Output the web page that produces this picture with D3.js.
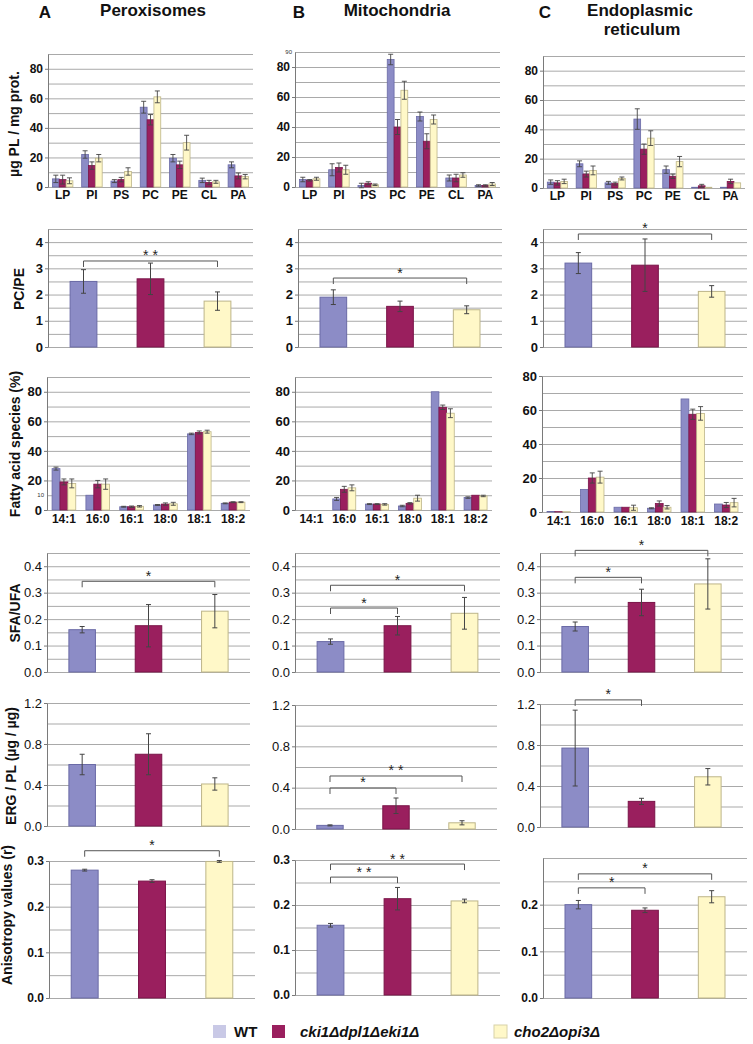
<!DOCTYPE html>
<html>
<head>
<meta charset="utf-8">
<script src="https://cdn.jsdelivr.net/npm/d3@7"></script>
<style>
  body { margin: 0; background: #fff; }
  svg { display: block; font-family: Arial, "Liberation Sans", sans-serif; }
</style>
</head>
<body>
<svg id="fig" width="753" height="1044"></svg>
<script>
// strains, in legend order
var strains = ["WT", "cki1Δdpl1Δeki1Δ", "cho2Δopi3Δ"];
var fills = ["#8c8cc6", "#9a1f5e", "#fff8c8"];
var strokes = ["#6a6aa6", "#7a1448", "#bdb589"];

var organelles = ["Peroxisomes", "Mitochondria", "Endoplasmic reticulum"];
var plClasses = ["LP", "PI", "PS", "PC", "PE", "CL", "PA"];
var faSpecies = ["14:1", "16:0", "16:1", "18:0", "18:1", "18:2"];

// µg PL / mg protein, per class: [WT, cki1, cho2]
var plPerox    = [[5.5,5,4.2],[22,14.5,19.5],[4,5,10.5],[54,45.5,61],[19.5,15,30],[4.5,3,3.5],[15,7.5,7]];
var plPeroxErr = [[2.5,3,2],[2.5,2.5,2.5],[1,1.5,2.5],[4,3.5,4],[2.5,2.5,5],[1.5,1.5,1],[2,2,1.5]];
var plMito     = [[5,4.5,5.5],[11.5,13,11.5],[1,2.5,1.5],[85,40,64.5],[47,30.5,45],[6,6,8],[1,1,2]];
var plMitoErr  = [[1.5,0.5,1],[4,3,3],[1.5,1,0.5],[3.5,5,6],[3,5,3],[2,2.5,1.5],[0.5,0.5,1]];
var plER       = [[4,3.5,4.5],[16.5,9.5,12],[3.5,3,6.5],[47,26.5,34],[12.5,8,18],[0.5,1.5,0.5],[0.5,4.5,3.5]];
var plERErr    = [[1.5,1.5,1.5],[2,2,3],[1,1,1],[7,3.5,5],[2.5,1.5,3.5],[0,1,0],[0,1.5,0]];

// fatty acid species (%)
var faPerox    = [[28,19,18],[10,17.5,17.5],[2.2,2.2,2.5],[3.4,4,4.2],[51.5,52.5,53],[4.5,5.3,5.3]];
var faPeroxErr = [[1,2,3],[0,2.5,3.5],[0.3,0.5,0.5],[0.3,0.8,1],[0.5,1,1],[0.3,0.3,0.3]];
var faMito     = [[0,0,0],[7.5,14,15],[4,4,3.8],[2.7,4.5,8],[80,69.5,65.5],[8.4,10,9.5]];
var faMitoErr  = [[0,0,0],[1,2,2],[0.3,0.3,0.5],[0.5,0.5,2],[0,1.5,3],[0.5,0,0.5]];
var faER       = [[0.3,0.2,0.2],[13.3,20,20.5],[2.8,2.8,2.5],[2.2,5,2.8],[66.5,57.5,58],[4.7,4.1,5.5]];
var faERErr    = [[0,0,0],[0,3,3.5],[0,0,1.5],[0.3,1.5,1],[0,3,4],[0,1.5,2.5]];

// one row per organelle: [WT, cki1, cho2]
var pcpe       = [[2.5,2.6,1.75],[1.9,1.55,1.42],[3.2,3.12,2.12]];
var pcpeErr    = [[0.45,0.6,0.35],[0.28,0.2,0.15],[0.4,1.0,0.22]];
var sfaUfa     = [[0.16,0.175,0.23],[0.115,0.175,0.222],[0.172,0.263,0.333]];
var sfaUfaErr  = [[0.012,0.08,0.063],[0.01,0.035,0.06],[0.017,0.05,0.095]];
var ergPl      = [[0.6,0.7,0.41],[0.035,0.225,0.06],[0.77,0.25,0.49]];
var ergPlErr   = [[0.1,0.2,0.06],[0.005,0.075,0.02],[0.37,0.03,0.08]];
var aniso      = [[0.28,0.256,0.299],[0.155,0.214,0.209],[0.2,0.188,0.217]];
var anisoErr   = [[0.002,0.003,0.002],[0.004,0.025,0.004],[0.009,0.005,0.013]];

// significance brackets: [from, to, height, label]
var pcpeSig   = [[[0,2,3.28,"* *"]], [[0,2,2.63,"*"]], [[0,2,4.31,"*"]]];
var sfaUfaSig = [[[0,2,0.343,"*"]], [[0,1,0.242,"*"],[0,2,0.328,"*"]], [[0,1,0.358,"*"],[0,2,0.46,"*"]]];
var ergPlSig  = [[], [[0,1,0.397,"*"],[0,2,0.513,"* *"]], [[0,1,1.24,"*"]]];
var anisoSig  = [[[0,2,0.3225,"*"]], [[0,1,0.262,"* *"],[0,2,0.291,"* *"]], [[0,1,0.236,"*"],[0,2,0.266,"*"]]];

var svg = d3.select("#fig");

function drawAxes(g, c, y) {
  var w = c.r - c.l;
  var gridVals = d3.range(0, c.max + c.grid / 2, c.grid);
  var grid = g.append("g").attr("transform", "translate(" + c.l + ",0)")
    .call(d3.axisLeft(y).tickValues(gridVals).tickSize(-w).tickFormat(""));
  grid.select(".domain").remove();
  grid.selectAll("line").attr("stroke", "#a9a9a9");

  var ax = g.append("g").attr("transform", "translate(" + c.l + ",0)")
    .call(d3.axisLeft(y).tickValues(c.labels).tickSize(3).tickPadding(2)
      .tickSizeOuter(0).tickFormat(d3.format(c.fmt)));
  ax.select(".domain").attr("stroke", "#7a7a7a");
  ax.selectAll("line").attr("stroke", "#7a7a7a");
  ax.selectAll("text").attr("fill", "#111")
    .style("font-size", c.fs + "px").style("font-weight", c.bold ? "bold" : "normal");
  if (c.tiny) {
    g.append("text").attr("x", c.l - 3).attr("y", y(c.tiny) + 2)
      .attr("text-anchor", "end").style("font-size", "6px").attr("fill", "#333").text(c.tiny);
  }
}

function errBar(g, cx, y, v, e) {
  if (!e) return;
  var t = y(v + e), b = y(v - e);
  g.append("line").attr("x1", cx).attr("x2", cx).attr("y1", t).attr("y2", b);
  g.append("line").attr("x1", cx - 2.5).attr("x2", cx + 2.5).attr("y1", t).attr("y2", t);
  g.append("line").attr("x1", cx - 2.5).attr("x2", cx + 2.5).attr("y1", b).attr("y2", b);
}

function groupedPanel(c, cats, means, errs) {
  var g = svg.append("g");
  var y = d3.scaleLinear().domain([0, c.max]).range([c.y0, c.yT]);
  drawAxes(g, c, y);
  var x0 = d3.scaleBand().domain(cats).range([c.l, c.r]).paddingInner(0.3).paddingOuter(0.15);
  var x1 = d3.scaleBand().domain([0, 1, 2]).range([0, x0.bandwidth()]);
  var eg = g.append("g").attr("stroke", "#444").attr("stroke-width", 0.9);
  cats.forEach(function(cat, i) {
    means[i].forEach(function(v, s) {
      var x = x0(cat) + x1(s);
      g.append("rect").attr("x", x).attr("width", x1.bandwidth())
        .attr("y", y(v)).attr("height", c.y0 - y(v))
        .attr("fill", fills[s]).attr("stroke", strokes[s]).attr("stroke-width", 0.8);
      errBar(eg, x + x1.bandwidth() / 2, y, v, errs[i][s]);
    });
  });
  eg.raise();
  var xa = g.append("g").attr("transform", "translate(0," + c.y0 + ")")
    .call(d3.axisBottom(x0).tickSize(0).tickPadding(c.catPad));
  xa.select(".domain").remove();
  xa.selectAll("text").attr("fill", "#111").style("font-size", "12px").style("font-weight", "bold");
}

function singlePanel(c, means, errs, sig) {
  var g = svg.append("g");
  var y = d3.scaleLinear().domain([0, c.max]).range([c.y0, c.yT]);
  drawAxes(g, c, y);
  var x = d3.scaleBand().domain([0, 1, 2]).range([c.l, c.r]).paddingInner(0.6).paddingOuter(0.33);
  g.selectAll("rect.bar").data(means).enter().append("rect").attr("class", "bar")
    .attr("x", function(d, i) { return x(i); }).attr("width", x.bandwidth())
    .attr("y", function(d) { return y(d); })
    .attr("height", function(d) { return c.y0 - y(d); })
    .attr("fill", function(d, i) { return fills[i]; })
    .attr("stroke", function(d, i) { return strokes[i]; }).attr("stroke-width", 1);
  var eg = g.append("g").attr("stroke", "#444").attr("stroke-width", 1);
  means.forEach(function(v, i) { errBar(eg, x(i) + x.bandwidth() / 2, y, v, errs[i]); });
  var sg = g.append("g");
  sig.forEach(function(s) {
    var xa = x(s[0]) + x.bandwidth() / 2, xb = x(s[1]) + x.bandwidth() / 2, yy = y(s[2]);
    sg.append("path").attr("fill", "none").attr("stroke", "#555").attr("stroke-width", 1)
      .attr("d", "M" + xa + "," + (yy + 6) + "V" + yy + "H" + xb + "V" + (yy + 6));
    sg.append("text").attr("x", (xa + xb) / 2).attr("y", yy - 0.5).attr("text-anchor", "middle")
      .style("font-size", "14px").attr("fill", "#222").text(s[3]);
  });
}

// panel geometry per row, one entry per organelle column
var rowPl = [{l:48,r:253,y0:187,yT:54},{l:295,r:500,y0:187,yT:52,tiny:90},{l:543,r:745,y0:188,yT:56}];
rowPl.forEach(function(c, i) {
  Object.assign(c, {max:90, grid:10, labels:[0,20,40,60,80], fmt:"d", fs:12, bold:true, catPad:3});
  groupedPanel(c, plClasses, [plPerox, plMito, plER][i], [plPeroxErr, plMitoErr, plERErr][i]);
});

var rowPcpe = [{l:48,r:253},{l:298,r:502},{l:543,r:747}];
rowPcpe.forEach(function(c, i) {
  Object.assign(c, {y0:347, yT:229, max:4.5, grid:0.5, labels:[0,1,2,3,4], fmt:"d", fs:13, bold:true});
  singlePanel(c, pcpe[i], pcpeErr[i], pcpeSig[i]);
});

var rowFa = [{l:47,r:250,y0:510,yT:377,max:90,tiny:10},{l:295,r:492,y0:510,yT:377,max:90},{l:542,r:743,y0:512,yT:376,max:80}];
rowFa.forEach(function(c, i) {
  Object.assign(c, {grid:10, labels:[0,20,40,60,80], fmt:"d", fs:13, bold:true, catPad:4});
  groupedPanel(c, faSpecies, [faPerox, faMito, faER][i], [faPeroxErr, faMitoErr, faERErr][i]);
});

var rowSfa = [{l:47,r:250},{l:295,r:500},{l:540,r:743}];
rowSfa.forEach(function(c, i) {
  Object.assign(c, {y0:672, yT:553, max:0.45, grid:0.05, labels:[0,0.1,0.2,0.3,0.4], fmt:".1f", fs:13, bold:false});
  singlePanel(c, sfaUfa[i], sfaUfaErr[i], sfaUfaSig[i]);
});

var rowErg = [{l:47,r:250,y0:826,yT:703},{l:295,r:497,y0:829,yT:705},{l:540,r:743,y0:827,yT:704}];
rowErg.forEach(function(c, i) {
  Object.assign(c, {max:1.2, grid:0.2, labels:[0,0.4,0.8,1.2], fmt:".1f", fs:13, bold:false});
  singlePanel(c, ergPl[i], ergPlErr[i], ergPlSig[i]);
});

var rowAniso = [{l:49,r:255,y0:998,yT:861,labels:[0,0.1,0.2,0.3]},
                {l:295,r:500,y0:995,yT:860,labels:[0,0.1,0.2,0.3]},
                {l:543,r:747,y0:998,yT:858,labels:[0,0.1,0.2]}];
rowAniso.forEach(function(c, i) {
  Object.assign(c, {max:0.3, grid:0.05, fmt:".1f", fs:12, bold:true});
  singlePanel(c, aniso[i], anisoErr[i], anisoSig[i]);
});

// column headings
var heads = svg.append("g").attr("fill", "#111").style("font-weight", "bold");
[["A",45],["B",299],["C",545]].forEach(function(h) {
  heads.append("text").attr("x", h[1]).attr("y", 18).attr("text-anchor", "middle")
    .style("font-size", "17px").text(h[0]);
});
heads.append("text").attr("x", 153).attr("y", 16).attr("text-anchor", "middle").style("font-size", "17px").text(organelles[0]);
heads.append("text").attr("x", 397).attr("y", 16).attr("text-anchor", "middle").style("font-size", "17px").text(organelles[1]);
var er = organelles[2].split(" ");
heads.append("text").attr("x", 640).attr("y", 16).attr("text-anchor", "middle").style("font-size", "17px").text(er[0]);
heads.append("text").attr("x", 642).attr("y", 35).attr("text-anchor", "middle").style("font-size", "17px").text(er[1]);

// y-axis titles
var yTitles = [["µg PL / mg prot.", 19, 124], ["PC/PE", 24, 289], ["Fatty acid species (%)", 20, 444],
               ["SFA/UFA", 20, 613], ["ERG / PL (µg / µg)", 16, 766], ["Anisotropy values (r)", 12, 915]];
yTitles.forEach(function(t) {
  svg.append("text").attr("transform", "translate(" + t[1] + "," + t[2] + ") rotate(-90)")
    .attr("text-anchor", "middle").style("font-size", "14px").style("font-weight", "bold")
    .attr("fill", "#111").text(t[0]);
});

// legend
var legX = [213, 272, 494], legTx = [234, 300, 514];
var leg = svg.append("g");
strains.forEach(function(s, i) {
  leg.append("rect").attr("x", legX[i]).attr("y", 1025).attr("width", 13).attr("height", 13)
    .attr("fill", i === 0 ? "#c9c9e6" : fills[i]).attr("stroke", i === 2 ? "#d8d2a8" : "none");
  leg.append("text").attr("x", legTx[i]).attr("y", 1037).style("font-size", "15px")
    .style("font-weight", "bold").style("font-style", i === 0 ? "normal" : "italic")
    .attr("fill", "#111").text(s);
});
</script>
</body>
</html>
